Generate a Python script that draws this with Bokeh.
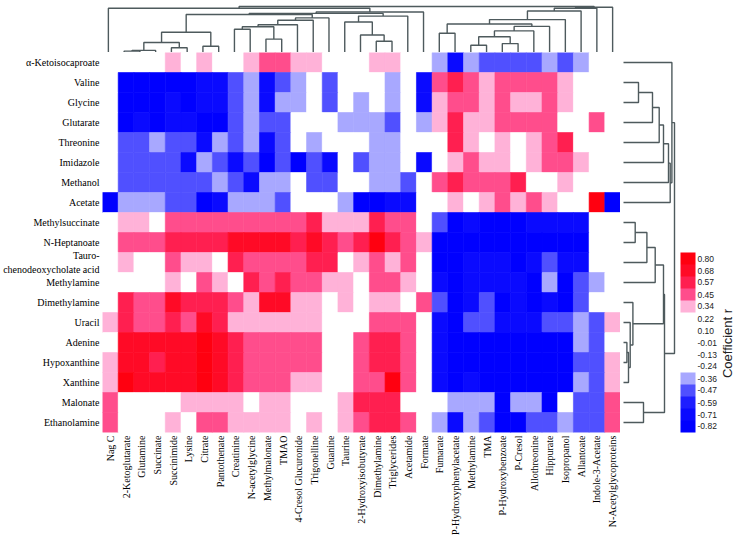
import math
from bokeh.plotting import figure
from bokeh.models import (FactorRange, Range1d, ColumnDataSource, LinearColorMapper,
                          ColorBar, FixedTicker, PrintfTickFormatter, Label, AllLabels)
from bokeh.layouts import column, row
from bokeh.embed import file_html
from bokeh.resources import INLINE

# ---------------- data ----------------
row_names = ["α-Ketoisocaproate", "Valine", "Glycine", "Glutarate", "Threonine", "Imidazole",
             "Methanol", "Acetate", "Methylsuccinate", "N-Heptanoate",
             "Tauro-\nchenodeoxycholate acid", "Methylamine", "Dimethylamine", "Uracil",
             "Adenine", "Hypoxanthine", "Xanthine", "Malonate", "Ethanolamine"]

col_names = ["Nag C", "2-Ketoglutarate", "Glutamine", "Succinate", "Succinimide", "Lysine",
             "Citrate", "Pantothenate", "Creatinine", "N-acetylglycine", "Methylmalonate",
             "TMAO", "4-Cresol Glucuronide", "Trigonelline", "Guanine", "Taurine",
             "2-Hydroxyisobutyrate", "Dimethylamine", "Triglycerides", "Acetamide", "Formate",
             "Fumarate", "P-Hydroxyphenylacetate", "Methylamine", "TMA", "P-Hydroxybenzoate",
             "P-Cresol", "Allothreonine", "Hippurate", "Isopropanol", "Allantoate",
             "Indole-3-Acetate", "N-Acetylglycoproteins"]

# colour-scale tick labels (legend)
scale_ticks = [0.80, 0.68, 0.57, 0.45, 0.34, 0.22, 0.10, -0.01, -0.13, -0.24,
               -0.36, -0.47, -0.59, -0.71, -0.82]

# correlation levels
W = 0.0
L, P, C, R, X = 0.34, 0.45, 0.57, 0.68, 0.80
b, m, B, D, Z = -0.36, -0.47, -0.59, -0.71, -0.82

coef = [
    [W,W,W,W,L,W,L,W,W,L,P,P,L,L,W,W,W,L,L,W,W,b,D,b,m,m,m,m,b,m,b,W,W],  # α-Ketoisocaproate
    [W,Z,Z,Z,Z,Z,D,D,m,b,D,m,b,W,m,W,W,W,b,W,D,P,C,P,L,P,P,P,P,L,W,W,W],  # Valine
    [W,Z,Z,Z,D,Z,D,D,m,b,D,b,b,W,m,W,b,W,b,W,D,L,P,P,L,P,L,L,P,L,W,W,W],  # Glycine
    [W,Z,D,Z,D,D,Z,Z,m,b,m,m,W,W,W,b,b,b,m,W,b,L,C,L,L,P,P,P,P,W,W,P,W],  # Glutarate
    [W,m,m,b,m,m,D,b,m,b,D,m,W,b,W,W,W,b,b,W,W,W,C,L,W,L,W,L,P,C,W,W,W],  # Threonine
    [W,m,m,m,m,D,b,m,D,m,Z,m,Z,m,D,W,m,b,b,W,D,W,L,P,L,L,W,L,P,P,L,W,W],  # Imidazole
    [W,m,m,m,m,m,m,b,m,D,b,b,W,m,m,W,W,b,b,m,W,P,C,P,P,P,C,W,W,L,W,W,W],  # Methanol
    [Z,b,b,b,m,m,Z,D,b,b,b,m,W,W,W,b,Z,Z,D,D,W,W,L,W,L,P,L,P,L,W,W,X,Z],  # Acetate
    [W,L,L,W,P,P,P,P,P,P,P,P,P,C,L,L,L,C,P,P,W,m,Z,D,Z,Z,Z,D,D,D,D,W,W],  # Methylsuccinate
    [W,P,P,P,C,C,C,C,R,R,R,R,C,R,C,P,C,X,C,P,L,Z,Z,Z,Z,Z,Z,Z,Z,Z,Z,W,W],  # N-Heptanoate
    [W,L,W,W,P,L,L,W,C,P,P,P,P,C,C,W,L,P,L,P,W,Z,Z,D,D,D,Z,D,m,D,D,W,W],  # Tauro-chenodeoxycholate
    [W,W,W,W,L,W,P,L,W,C,P,C,P,P,L,L,W,P,P,L,W,D,Z,D,D,D,D,Z,b,Z,m,b,W],  # Methylamine
    [W,C,P,P,R,C,C,C,P,L,R,R,L,L,W,L,W,L,L,W,P,m,Z,D,m,Z,D,Z,D,Z,m,W,W],  # Dimethylamine
    [L,C,P,P,C,P,R,C,L,L,L,L,L,L,W,W,W,P,P,P,W,D,Z,m,m,D,D,D,m,m,b,m,L],  # Uracil
    [W,R,R,R,R,R,X,R,C,P,P,P,P,P,W,W,P,C,C,P,W,D,Z,Z,Z,Z,Z,Z,Z,Z,b,m,W],  # Adenine
    [L,R,R,C,R,R,X,R,C,P,P,P,P,P,W,W,P,C,C,P,W,D,Z,Z,Z,Z,Z,Z,Z,Z,m,m,L],  # Hypoxanthine
    [L,X,R,R,R,R,X,R,C,P,P,P,L,L,W,W,P,P,X,P,W,D,Z,D,Z,Z,Z,Z,Z,Z,b,m,L],  # Xanthine
    [P,W,W,W,W,L,L,L,L,W,L,L,W,W,W,L,C,C,C,W,W,W,b,b,b,Z,b,b,Z,W,m,m,P],  # Malonate
    [P,W,W,W,L,W,P,P,L,L,L,L,W,L,W,L,P,C,C,P,W,b,D,b,m,Z,Z,m,m,b,m,m,P],  # Ethanolamine
]

# column dendrogram: (child a, child b, merge height); leaves 0..32, new nodes from 33
col_merges = [
    (1, 2, 1.4), (33, 3, 2.1), (4, 5, 4.8), (34, 35, 10.0), (6, 7, 6.2), (36, 37, 20.2),
    (8, 9, 23.3), (10, 11, 13.4), (39, 40, 25.7), (41, 12, 27.8), (42, 13, 32.2),
    (43, 14, 34.6), (38, 44, 38.0), (17, 18, 11.3), (16, 46, 17.5), (15, 47, 30.5),
    (48, 19, 36.4), (45, 49, 39.1), (50, 20, 40.5), (0, 51, 44.3),
    (21, 22, 19.2), (23, 24, 7.2), (25, 26, 8.9), (54, 55, 15.8), (56, 27, 21.6),
    (57, 28, 26.1), (53, 58, 28.5), (59, 29, 32.9), (60, 30, 41.5), (61, 31, 44.3),
    (62, 32, 45.3), (52, 63, 46.0),
]

# row dendrogram: leaves 0..18, new nodes from 19
row_merges = [
    (1, 2, 15.0), (19, 3, 29.0), (20, 4, 35.7), (21, 5, 40.0), (22, 6, 45.0),
    (23, 7, 46.7), (0, 24, 48.4),
    (8, 9, 11.7), (26, 10, 23.4), (27, 11, 31.7),
    (14, 15, 3.4), (29, 16, 5.0), (13, 30, 6.7), (12, 31, 9.4), (28, 32, 40.0),
    (17, 18, 20.0), (33, 34, 41.0), (25, 35, 51.0),
]

palette = ["#0000FF", "#0A0AFF", "#1E1EFF", "#5050FF", "#A8A8FF",
           "#FFFFFF", "#FFFFFF", "#FFFFFF", "#FFFFFF", "#FFFFFF",
           "#FFB2D8", "#FF4D8C", "#FF1F50", "#FF0A26", "#FF0010"]

# ---------------- helpers ----------------
def dendro(merges, leaf_pos):
    pos = list(leaf_pos)
    hts = [0.0] * len(leaf_pos)
    ps, hs = [], []
    for a, bb, h in merges:
        pa, pb = pos[a], pos[bb]
        ps.append([pa, pa, pb, pb])
        hs.append([hts[a], h, h, hts[bb]])
        pos.append((pa + pb) / 2.0)
        hts.append(h)
    return ps, hs

mapper = LinearColorMapper(palette=palette, low=-0.878, high=0.858)
DEND_COLOR = "#4e5a5d"

# ---------------- heatmap ----------------
xs, ys, vs = [], [], []
for i, rn in enumerate(row_names):
    for j, cn in enumerate(col_names):
        xs.append(cn); ys.append(rn); vs.append(coef[i][j])
src = ColumnDataSource(dict(x=xs, y=ys, v=vs))

heat = figure(width=620, height=487, output_backend="svg", toolbar_location=None,
              x_range=FactorRange(factors=col_names, range_padding=0),
              y_range=FactorRange(factors=row_names[::-1], range_padding=0),
              min_border_left=100, min_border_right=0, min_border_top=0, min_border_bottom=107)
heat.rect(x="x", y="y", width=1, height=1, source=src,
          fill_color={"field": "v", "transform": mapper},
          line_color={"field": "v", "transform": mapper}, line_width=0.6)
heat.outline_line_color = None
heat.grid.visible = False
for ax in (heat.xaxis[0], heat.yaxis[0]):
    ax.axis_line_color = None
    ax.major_tick_line_color = None
    ax.minor_tick_line_color = None
    ax.major_tick_out = 0
    ax.major_tick_in = 0
    ax.major_label_standoff = 3
    ax.major_label_text_font = "Liberation Serif"
    ax.major_label_text_color = "#000000"
heat.yaxis.major_label_text_font_size = "10px"
heat.xaxis.major_label_text_font_size = "10px"
heat.xaxis.major_label_orientation = math.pi / 2

# ---------------- top dendrogram ----------------
top = figure(width=734, height=52, output_backend="svg", toolbar_location=None,
             x_range=Range1d(0, len(col_names)), y_range=Range1d(0, 52),
             x_axis_location=None, y_axis_location=None,
             min_border_left=100, min_border_right=114, min_border_top=0, min_border_bottom=0)
tx, ty = dendro(col_merges, [j + 0.5 for j in range(len(col_names))])
top.multi_line(xs=tx, ys=ty, line_color=DEND_COLOR, line_width=1.4)
top.outline_line_color = None
top.grid.visible = False

# ---------------- right dendrogram ----------------
rd = figure(width=60, height=487, output_backend="svg", toolbar_location=None,
            x_range=Range1d(-3, 57), y_range=Range1d(0, len(row_names)),
            x_axis_location=None, y_axis_location=None,
            min_border_left=0, min_border_right=0, min_border_top=0, min_border_bottom=107)
rp, rh = dendro(row_merges, [len(row_names) - i - 0.5 for i in range(len(row_names))])
rd.multi_line(xs=rh, ys=rp, line_color=DEND_COLOR, line_width=1.4)
rd.outline_line_color = None
rd.grid.visible = False

# ---------------- legend ----------------
lg = figure(width=54, height=487, output_backend="svg", toolbar_location=None,
            x_range=Range1d(0, 54), y_range=Range1d(0, 380),
            x_axis_location=None, y_axis_location=None,
            min_border_left=0, min_border_right=0, min_border_top=0, min_border_bottom=107)
lg.outline_line_color = None
lg.grid.visible = False
cb = ColorBar(color_mapper=mapper, ticker=FixedTicker(ticks=scale_ticks),
              formatter=PrintfTickFormatter(format="%.2f"),
              major_label_policy=AllLabels(),
              orientation="vertical", width=15, height=180, location=(0, 0),
              padding=0, margin=0, label_standoff=2,
              major_tick_line_color=None, minor_tick_line_color=None,
              bar_line_color=None, border_line_color=None, background_fill_alpha=0,
              major_label_text_font="Liberation Sans", major_label_text_font_size="8.5px",
              major_label_text_color="#222222")
lg.add_layout(cb, "center")
lg.add_layout(Label(x=47, y=89, text="Coefficient r", angle=math.pi / 2,
                    text_align="center", text_baseline="middle",
                    text_font="Liberation Sans", text_font_size="13px", text_color="#222222"))

layout = column(top, row(heat, rd, lg))
open("out.html", "w").write(file_html(layout, INLINE))
